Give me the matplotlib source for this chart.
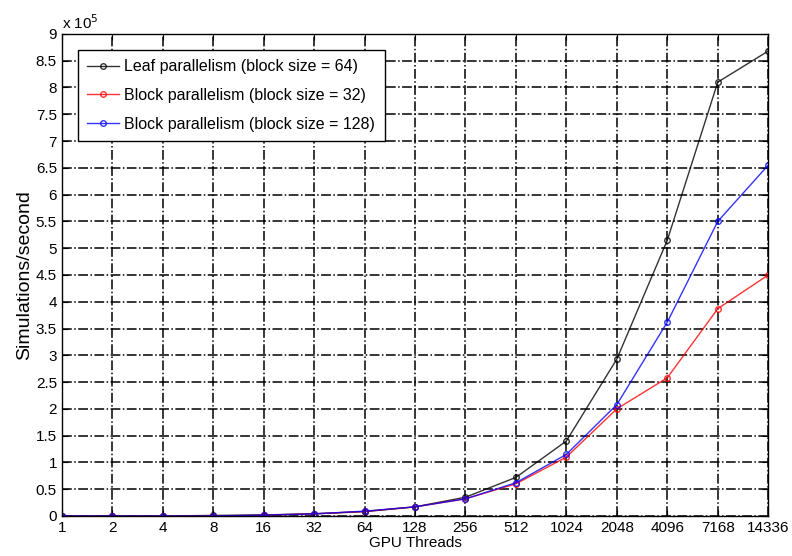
import numpy as np
import matplotlib.pyplot as plt
from matplotlib.ticker import FuncFormatter

plt.rcParams['font.family'] = ['Liberation Sans', 'DejaVu Sans']

# GPU thread counts (categorical x axis)
threads = ["1", "2", "4", "8", "16", "32", "64", "128", "256", "512",
           "1024", "2048", "4096", "7168", "14336"]

# simulations/second
leaf_64 = [0, 0, 0, 1000, 2000, 4000, 8000, 17000, 35000, 72000,
           140000, 293000, 515000, 810000, 868000]
block_32 = [0, 0, 0, 0, 1500, 4000, 8500, 17000, 32000, 60000,
            110000, 200000, 258000, 387000, 450000]
block_128 = [0, 0, 0, 0, 1500, 4000, 9000, 17000, 32000, 62000,
             115000, 208000, 362000, 550000, 655000]

x = np.arange(len(threads))

fig = plt.figure(figsize=(7.92, 5.56), dpi=100)
ax = fig.add_axes([0.078, 0.072, 0.892, 0.867])

ax.plot(x, leaf_64, color='black', marker='o', markersize=4, mfc='none',
        lw=1.0, alpha=0.8, label="Leaf parallelism (block size = 64)")
ax.plot(x, block_32, color='red', marker='o', markersize=4, mfc='none',
        lw=1.0, alpha=0.8, label="Block parallelism (block size = 32)")
ax.plot(x, block_128, color='blue', marker='o', markersize=4, mfc='none',
        lw=1.0, alpha=0.8, label="Block parallelism (block size = 128)")

ax.set_xlim(0, len(threads) - 1)
ax.set_ylim(0, 900000)
ax.set_xticks(x)
ax.set_xticklabels(threads)
ax.set_yticks(np.arange(0, 900001, 50000))
ax.yaxis.set_major_formatter(FuncFormatter(lambda v, p: "%g" % (v / 1e5)))
ax.tick_params(direction='in', labelsize=11, length=4, top=True, right=True)

ax.grid(True, color='black', linestyle='-.', linewidth=1.1)
for s in ax.spines.values():
    s.set_linewidth(1.0)

ax.text(0.0, 1.005, r"x 10$^5$", transform=ax.transAxes, fontsize=11,
        ha='left', va='bottom')

ax.set_xlabel("GPU Threads", fontsize=11, labelpad=1)
ax.set_ylabel("Simulations/second", fontsize=14, labelpad=2)

leg = ax.legend(loc='upper left', fontsize=11.5, fancybox=False,
                edgecolor='black', framealpha=1, borderaxespad=1.0,
                handlelength=2.0, handletextpad=0.3, labelspacing=0.85,
                borderpad=0.6)
leg.get_frame().set_linewidth(1.0)

fig.savefig("out.png", dpi=100)
